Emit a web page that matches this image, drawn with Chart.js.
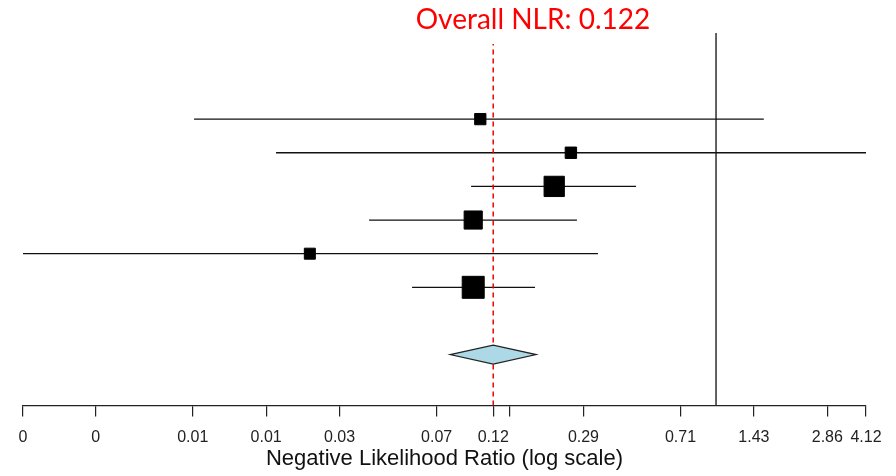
<!DOCTYPE html>
<html>
<head>
<meta charset="utf-8">
<script src="https://cdn.jsdelivr.net/npm/chart.js@4"></script>
<style>
    html, body { margin: 0; padding: 0; background: #fff; }
    #wrap { width: 896px; height: 476px; }
</style>
</head>
<body>
<div id="wrap"><canvas id="chart" width="896" height="476"></canvas></div>
<script>
// study estimates, top row first
const estimates = [0.108, 0.254, 0.217, 0.101, 0.0216, 0.101];
const lowerCI = [0.00724, 0.0157, 0.099, 0.0378, 0.00144, 0.0567];
const upperCI = [1.57, 4.12, 0.47, 0.269, 0.328, 0.181];
const weights = [10.0, 10.2, 23.6, 20.4, 9.6, 26.2];

// pooled estimate
const pooled = 0.122;
const pooledLower = 0.0812;
const pooledUpper = 0.183;

const tickValues = [0.00144, 0.00286, 0.00715, 0.0143, 0.0286, 0.0715, 0.122, 0.143, 0.286, 0.715, 1.43, 2.86, 4.12];
const tickLabels = ['0', '0', '0.01', '0.01', '0.03', '0.07', '0.12', '', '0.29', '0.71', '1.43', '2.86', '4.12'];

const xMin = 0.00144, xMax = 4.12;
const yMin = -2.51, yMax = 8.56;
const summaryRow = -1;

document.addEventListener('DOMContentLoaded', () => {
    const n = estimates.length;
    const rowY = i => n - i;

    // square size grows with weight
    const wMin = Math.min(...weights), wMax = Math.max(...weights);
    const sideFor = w => 11 + (w - wMin) / (wMax - wMin) * 11;

    const datasets = [];

    // confidence interval lines
    estimates.forEach((est, i) => {
        datasets.push({
            type: 'line',
            data: [{ x: lowerCI[i], y: rowY(i) }, { x: upperCI[i], y: rowY(i) }],
            borderColor: '#111',
            borderWidth: 1.3,
            pointRadius: 0,
            order: 3
        });
    });

    // point estimates as squares
    datasets.push({
        type: 'scatter',
        data: estimates.map((e, i) => ({ x: e, y: rowY(i) })),
        pointStyle: 'rect',
        pointRadius: weights.map(w => sideFor(w) / Math.SQRT2),
        backgroundColor: '#000',
        borderColor: '#000',
        borderWidth: 1,
        order: 0
    });

    // overall dashed line
    datasets.push({
        type: 'line',
        data: [{ x: pooled, y: yMin }, { x: pooled, y: 8.23 }],
        borderColor: '#f00000',
        borderWidth: 1.5,
        borderDash: [5, 4],
        pointRadius: 0,
        order: 1
    });

    // no-effect line at 1
    datasets.push({
        type: 'line',
        data: [{ x: 1, y: yMin }, { x: 1, y: yMax }],
        borderColor: '#3a3a3a',
        borderWidth: 1.6,
        pointRadius: 0,
        order: 4
    });

    const diamondPlugin = {
        id: 'diamond',
        afterDatasetsDraw(chart) {
            const { ctx, scales: { x, y } } = chart;
            const cy = y.getPixelForValue(summaryRow);
            const h = y.getPixelForValue(summaryRow) - y.getPixelForValue(summaryRow + 0.28);
            ctx.save();
            ctx.beginPath();
            ctx.moveTo(x.getPixelForValue(pooledLower), cy);
            ctx.lineTo(x.getPixelForValue(pooled), cy - h);
            ctx.lineTo(x.getPixelForValue(pooledUpper), cy);
            ctx.lineTo(x.getPixelForValue(pooled), cy + h);
            ctx.closePath();
            ctx.fillStyle = '#add8e6';
            ctx.fill();
            ctx.strokeStyle = '#222';
            ctx.lineWidth = 1.2;
            ctx.stroke();

            // heading
            ctx.fillStyle = '#ff0000';
            ctx.font = '28px Lato, "Open Sans", sans-serif';
            ctx.textAlign = 'center';
            ctx.textBaseline = 'alphabetic';
            ctx.fillText('Overall NLR: ' + pooled.toFixed(3), 533, 29);
            ctx.restore();
        }
    };

    new Chart(document.getElementById('chart').getContext('2d'), {
        type: 'scatter',
        data: { datasets: datasets },
        plugins: [diamondPlugin],
        options: {
            responsive: false,
            animation: false,
            layout: { padding: { left: 23, right: 30, top: 33, bottom: 0 } },
            plugins: {
                legend: { display: false },
                tooltip: { enabled: false },
                title: { display: false }
            },
            scales: {
                x: {
                    type: 'logarithmic',
                    min: xMin,
                    max: xMax,
                    afterBuildTicks: axis => {
                        axis.ticks = tickValues.map(v => ({ value: v }));
                    },
                    ticks: {
                        autoSkip: false,
                        maxRotation: 0,
                        padding: 12,
                        color: '#222',
                        font: { family: '"Liberation Sans", Arial, sans-serif', size: 16 },
                        callback: (val, idx) => tickLabels[idx]
                    },
                    grid: {
                        drawOnChartArea: false,
                        drawTicks: true,
                        tickLength: 11,
                        color: '#222',
                        lineWidth: 1.2
                    },
                    border: { display: true, color: '#222', width: 1.2 },
                    title: {
                        display: true,
                        text: 'Negative Likelihood Ratio (log scale)',
                        color: '#111',
                        font: { family: '"Liberation Sans", Arial, sans-serif', size: 22 },
                        padding: { top: -14, bottom: 4 }
                    }
                },
                y: {
                    type: 'linear',
                    display: false,
                    min: yMin,
                    max: yMax
                }
            }
        }
    });
});
</script>
</body>
</html>
